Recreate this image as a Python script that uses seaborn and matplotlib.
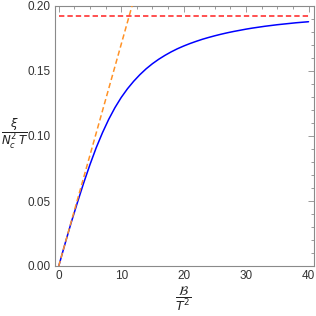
import numpy as np
import pandas as pd
import matplotlib
matplotlib.use("Agg")
import matplotlib.pyplot as plt
import seaborn as sns
from matplotlib.ticker import MultipleLocator

# Data
curve_x = [0, 1, 2, 3, 4, 5, 6, 7, 8, 9, 10, 11, 12, 13, 14, 15, 16, 17, 18, 19, 20,
           21, 22, 23, 24, 25, 26, 27, 28, 29, 30, 31, 32, 33, 34, 35, 36, 37, 38, 39, 40]
curve_y = [0, 0.017, 0.0335, 0.049, 0.064, 0.078, 0.091, 0.1025, 0.1128, 0.1218, 0.1296, 0.1363,
           0.1421, 0.1472, 0.1517, 0.1556, 0.1590, 0.1620, 0.1647, 0.1671, 0.1692,
           0.1711, 0.1728, 0.1744, 0.1758, 0.1771, 0.1783, 0.1794, 0.1804, 0.1813, 0.1822,
           0.1830, 0.1837, 0.1844, 0.1850, 0.1856, 0.1861, 0.1866, 0.1871, 0.1875, 0.1879]
linear_x = [0, 12.0]
linear_y = [0.0, 0.2046]
plateau_x = [0, 40]
plateau_y = [0.1925, 0.1925]

x_ticks = [0, 10, 20, 30, 40]
y_ticks = [0.00, 0.05, 0.10, 0.15, 0.20]

sns.set_style("white")
plt.rcParams["font.family"] = ["Liberation Sans", "DejaVu Sans"]
plt.rcParams["mathtext.fontset"] = "dejavusans"

fig = plt.figure(figsize=(3.16, 3.16), dpi=100)
ax = fig.add_axes([55/316, 50/316, (313.5-55)/316, 260/316])

df_c = pd.DataFrame({"x": curve_x, "y": curve_y})
df_l = pd.DataFrame({"x": linear_x, "y": linear_y})
df_p = pd.DataFrame({"x": plateau_x, "y": plateau_y})

sns.lineplot(data=df_c, x="x", y="y", ax=ax, color="#0000FF", linewidth=1.1, zorder=3)
sns.lineplot(data=df_l, x="x", y="y", ax=ax, color="#FF9226", linewidth=1.1,
             linestyle=(0, (3.5, 2)), zorder=4)
sns.lineplot(data=df_p, x="x", y="y", ax=ax, color="#FF2020", linewidth=1.1,
             linestyle=(0, (3.5, 2)), zorder=4)

ax.set_xlim(-0.6, 40.8)
ax.set_ylim(0, 0.2)
ax.set_xticks(x_ticks)
ax.set_yticks(y_ticks)
ax.set_xticklabels([str(t) for t in x_ticks])
ax.set_yticklabels([f"{t:.2f}" for t in y_ticks])
ax.xaxis.set_minor_locator(MultipleLocator(2.5))
ax.yaxis.set_minor_locator(MultipleLocator(0.01))
ax.set_xlabel("")
ax.set_ylabel("")

frame_c = "#8a8a8a"
for s in ax.spines.values():
    s.set_visible(True)
    s.set_color(frame_c)
    s.set_linewidth(0.8)
ax.tick_params(which="both", direction="in", top=True, right=True, color=frame_c,
               labelcolor="#333333", labelsize=8.5, width=0.6)
ax.tick_params(which="major", length=4, pad=3)
ax.tick_params(which="minor", length=2)

fig.text(15/316, 1 - 134/316, r"$\dfrac{\xi}{N_c^2\,T}$", ha="center", va="center",
         fontsize=8.5, color="#222222")
fig.text(183.5/316, 1 - 299/316, r"$\dfrac{\mathcal{B}}{T^2}$", ha="center", va="center",
         fontsize=9, color="#222222")

fig.savefig("out.png", dpi=100)
